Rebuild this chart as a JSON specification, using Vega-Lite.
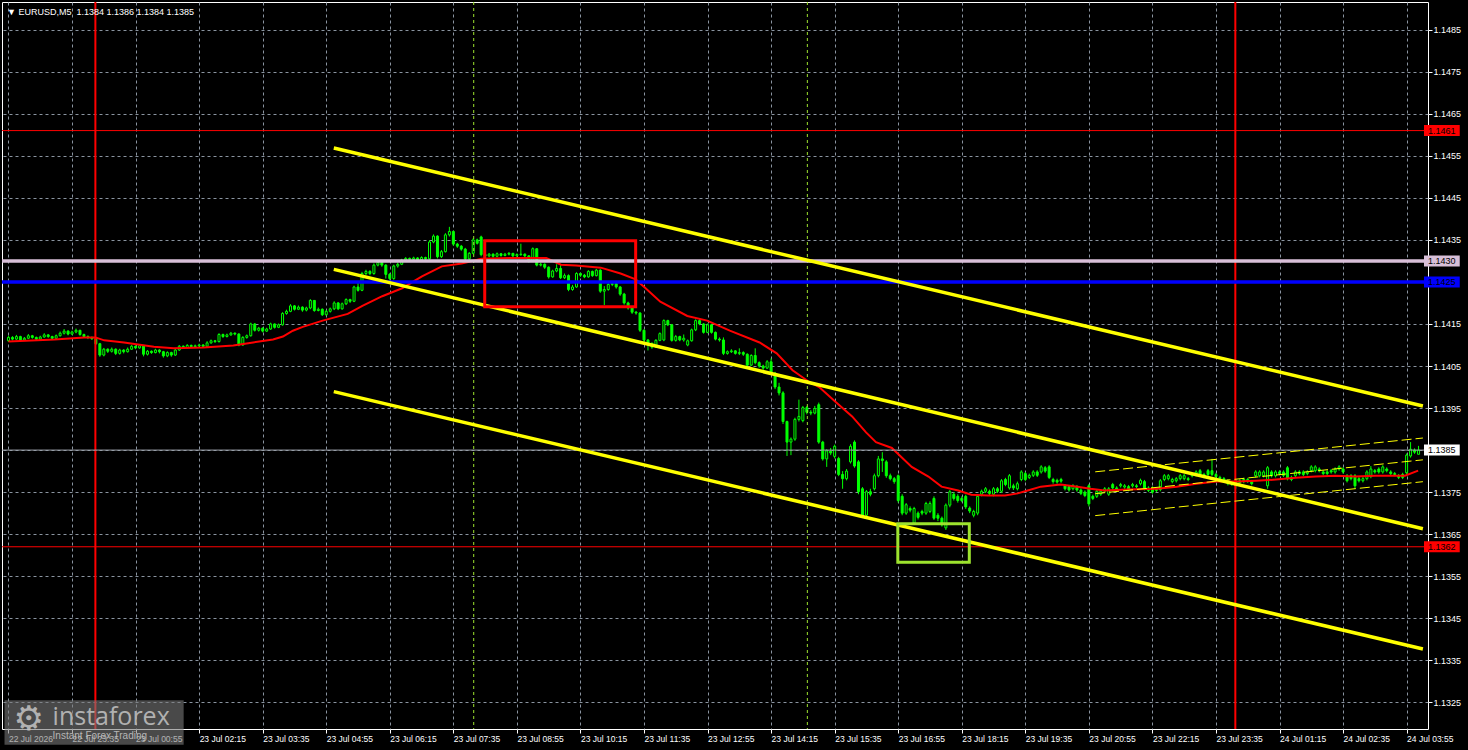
{
"$schema": "https://vega.github.io/schema/vega-lite/v6.json",
"width": 1426, "height": 727,
"autosize": {"type": "none"},
"padding": {"left": 2, "top": 2, "right": 40, "bottom": 21},
"background": "#000000",
"config": {"view": {"stroke": "#ffffff", "strokeWidth": 1}, "font": "Liberation Sans"},
"title": {"text": "▼ EURUSD,M5\u00a0 1.1384 1.1386 1.1384 1.1385", "anchor": "start", "frame": "group", "color": "#ffffff", "fontSize": 9, "fontWeight": "normal", "font": "Liberation Sans", "baseline": "top", "offset": 0, "dx": 5, "dy": 16},
"resolve": {"scale": {"color": "independent"}},
"datasets": {
"candles": [
{"i":0,"o":1.1411,"h":1.14122,"l":1.14107,"c":1.14118},
{"i":1,"o":1.14118,"h":1.14121,"l":1.14111,"c":1.14114},
{"i":2,"o":1.14114,"h":1.14124,"l":1.14112,"c":1.1412},
{"i":3,"o":1.1412,"h":1.14122,"l":1.14109,"c":1.14112},
{"i":4,"o":1.14112,"h":1.14119,"l":1.1411,"c":1.14116},
{"i":5,"o":1.14116,"h":1.14126,"l":1.14114,"c":1.14122},
{"i":6,"o":1.14122,"h":1.14124,"l":1.14115,"c":1.14118},
{"i":7,"o":1.14118,"h":1.1412,"l":1.14111,"c":1.14114},
{"i":8,"o":1.14114,"h":1.14122,"l":1.14112,"c":1.14119},
{"i":9,"o":1.14119,"h":1.14128,"l":1.14117,"c":1.14124},
{"i":10,"o":1.14124,"h":1.14126,"l":1.14117,"c":1.1412},
{"i":11,"o":1.1412,"h":1.14122,"l":1.14113,"c":1.14116},
{"i":12,"o":1.14116,"h":1.14125,"l":1.14114,"c":1.14122},
{"i":13,"o":1.14122,"h":1.14132,"l":1.1412,"c":1.14128},
{"i":14,"o":1.14128,"h":1.14138,"l":1.14125,"c":1.14133},
{"i":15,"o":1.14133,"h":1.14135,"l":1.14123,"c":1.14126},
{"i":16,"o":1.14126,"h":1.14134,"l":1.14124,"c":1.14131},
{"i":17,"o":1.14131,"h":1.14139,"l":1.14128,"c":1.14135},
{"i":18,"o":1.14135,"h":1.14136,"l":1.14122,"c":1.14125},
{"i":19,"o":1.14125,"h":1.14127,"l":1.14117,"c":1.1412},
{"i":20,"o":1.1412,"h":1.14123,"l":1.14114,"c":1.14118},
{"i":21,"o":1.14118,"h":1.1412,"l":1.14112,"c":1.14115},
{"i":22,"o":1.14115,"h":1.14117,"l":1.141,"c":1.14103},
{"i":23,"o":1.14103,"h":1.14105,"l":1.14072,"c":1.14076},
{"i":24,"o":1.14076,"h":1.14093,"l":1.14073,"c":1.1409},
{"i":25,"o":1.1409,"h":1.14092,"l":1.14081,"c":1.14085},
{"i":26,"o":1.14085,"h":1.14094,"l":1.14082,"c":1.1409},
{"i":27,"o":1.1409,"h":1.14092,"l":1.14076,"c":1.1408},
{"i":28,"o":1.1408,"h":1.14091,"l":1.14077,"c":1.14088},
{"i":29,"o":1.14088,"h":1.1409,"l":1.1408,"c":1.14084},
{"i":30,"o":1.14084,"h":1.14094,"l":1.14082,"c":1.1409},
{"i":31,"o":1.1409,"h":1.141,"l":1.14088,"c":1.14097},
{"i":32,"o":1.14097,"h":1.14099,"l":1.1409,"c":1.14093},
{"i":33,"o":1.14093,"h":1.14101,"l":1.14091,"c":1.14098},
{"i":34,"o":1.14098,"h":1.14099,"l":1.14073,"c":1.14078},
{"i":35,"o":1.14078,"h":1.14088,"l":1.14075,"c":1.14085},
{"i":36,"o":1.14085,"h":1.14087,"l":1.14079,"c":1.14082},
{"i":37,"o":1.14082,"h":1.14091,"l":1.1408,"c":1.14088},
{"i":38,"o":1.14088,"h":1.1409,"l":1.1408,"c":1.14084},
{"i":39,"o":1.14084,"h":1.14086,"l":1.1407,"c":1.14074},
{"i":40,"o":1.14074,"h":1.14085,"l":1.14071,"c":1.14082},
{"i":41,"o":1.14082,"h":1.14084,"l":1.14072,"c":1.14076},
{"i":42,"o":1.14076,"h":1.14091,"l":1.14074,"c":1.14088},
{"i":43,"o":1.14088,"h":1.141,"l":1.14086,"c":1.14097},
{"i":44,"o":1.14097,"h":1.14099,"l":1.14091,"c":1.14094},
{"i":45,"o":1.14094,"h":1.14102,"l":1.14092,"c":1.14099},
{"i":46,"o":1.14099,"h":1.14101,"l":1.14093,"c":1.14096},
{"i":47,"o":1.14096,"h":1.14101,"l":1.14094,"c":1.14098},
{"i":48,"o":1.14098,"h":1.14103,"l":1.14095,"c":1.141},
{"i":49,"o":1.141,"h":1.14102,"l":1.14094,"c":1.14097},
{"i":50,"o":1.14097,"h":1.14109,"l":1.14095,"c":1.14105},
{"i":51,"o":1.14105,"h":1.14113,"l":1.14103,"c":1.1411},
{"i":52,"o":1.1411,"h":1.14112,"l":1.14105,"c":1.14108},
{"i":53,"o":1.14108,"h":1.14128,"l":1.14106,"c":1.14125},
{"i":54,"o":1.14125,"h":1.14127,"l":1.14117,"c":1.1412},
{"i":55,"o":1.1412,"h":1.14127,"l":1.14118,"c":1.14124},
{"i":56,"o":1.14124,"h":1.14131,"l":1.14122,"c":1.14128},
{"i":57,"o":1.14128,"h":1.1413,"l":1.14123,"c":1.14126},
{"i":58,"o":1.14126,"h":1.14128,"l":1.14097,"c":1.141},
{"i":59,"o":1.141,"h":1.14121,"l":1.14098,"c":1.14118},
{"i":60,"o":1.14118,"h":1.14125,"l":1.14115,"c":1.14122},
{"i":61,"o":1.14122,"h":1.14153,"l":1.1412,"c":1.1415},
{"i":62,"o":1.1415,"h":1.14152,"l":1.14132,"c":1.14135},
{"i":63,"o":1.14135,"h":1.14143,"l":1.14132,"c":1.1414},
{"i":64,"o":1.1414,"h":1.14142,"l":1.1413,"c":1.14133},
{"i":65,"o":1.14133,"h":1.14141,"l":1.14131,"c":1.14138},
{"i":66,"o":1.14138,"h":1.14153,"l":1.14136,"c":1.1415},
{"i":67,"o":1.1415,"h":1.14151,"l":1.14139,"c":1.14142},
{"i":68,"o":1.14142,"h":1.14151,"l":1.1414,"c":1.14148},
{"i":69,"o":1.14148,"h":1.14178,"l":1.14146,"c":1.14175},
{"i":70,"o":1.14175,"h":1.14184,"l":1.14172,"c":1.1418},
{"i":71,"o":1.1418,"h":1.14197,"l":1.14178,"c":1.14193},
{"i":72,"o":1.14193,"h":1.14195,"l":1.14182,"c":1.14185},
{"i":73,"o":1.14185,"h":1.14194,"l":1.14183,"c":1.1419},
{"i":74,"o":1.1419,"h":1.14192,"l":1.14179,"c":1.14183},
{"i":75,"o":1.14183,"h":1.14191,"l":1.1418,"c":1.14188},
{"i":76,"o":1.14188,"h":1.14209,"l":1.14185,"c":1.14206},
{"i":77,"o":1.14206,"h":1.14207,"l":1.14179,"c":1.14182},
{"i":78,"o":1.14182,"h":1.14189,"l":1.1418,"c":1.14185},
{"i":79,"o":1.14185,"h":1.14187,"l":1.14169,"c":1.14172},
{"i":80,"o":1.14172,"h":1.14183,"l":1.1417,"c":1.1418},
{"i":81,"o":1.1418,"h":1.14189,"l":1.14177,"c":1.14186},
{"i":82,"o":1.14186,"h":1.14204,"l":1.14183,"c":1.142},
{"i":83,"o":1.142,"h":1.14202,"l":1.14183,"c":1.14186},
{"i":84,"o":1.14186,"h":1.14201,"l":1.14184,"c":1.14198},
{"i":85,"o":1.14198,"h":1.14211,"l":1.14195,"c":1.14208},
{"i":86,"o":1.14208,"h":1.1421,"l":1.142,"c":1.14204},
{"i":87,"o":1.14204,"h":1.14241,"l":1.14202,"c":1.14238},
{"i":88,"o":1.14238,"h":1.1425,"l":1.14227,"c":1.1423},
{"i":89,"o":1.1423,"h":1.14274,"l":1.14228,"c":1.1427},
{"i":90,"o":1.1427,"h":1.14279,"l":1.14266,"c":1.14275},
{"i":91,"o":1.14275,"h":1.14278,"l":1.14266,"c":1.1427},
{"i":92,"o":1.1427,"h":1.14294,"l":1.14267,"c":1.1429},
{"i":93,"o":1.1429,"h":1.143,"l":1.14287,"c":1.14296},
{"i":94,"o":1.14296,"h":1.14299,"l":1.14286,"c":1.1429},
{"i":95,"o":1.1429,"h":1.14292,"l":1.14258,"c":1.14268},
{"i":96,"o":1.14268,"h":1.14271,"l":1.14248,"c":1.14258},
{"i":97,"o":1.14258,"h":1.14291,"l":1.14255,"c":1.14288},
{"i":98,"o":1.14288,"h":1.14296,"l":1.14284,"c":1.14292},
{"i":99,"o":1.14292,"h":1.14305,"l":1.1429,"c":1.14302},
{"i":100,"o":1.14302,"h":1.14309,"l":1.14299,"c":1.14306},
{"i":101,"o":1.14306,"h":1.14308,"l":1.14301,"c":1.14304},
{"i":102,"o":1.14304,"h":1.1431,"l":1.14301,"c":1.14307},
{"i":103,"o":1.14307,"h":1.14309,"l":1.143,"c":1.14303},
{"i":104,"o":1.14303,"h":1.14311,"l":1.14301,"c":1.14308},
{"i":105,"o":1.14308,"h":1.1431,"l":1.14302,"c":1.14305},
{"i":106,"o":1.14305,"h":1.14349,"l":1.14303,"c":1.14345},
{"i":107,"o":1.14345,"h":1.14363,"l":1.14342,"c":1.14359},
{"i":108,"o":1.14359,"h":1.14361,"l":1.14306,"c":1.1431},
{"i":109,"o":1.1431,"h":1.14326,"l":1.14307,"c":1.14322},
{"i":110,"o":1.14322,"h":1.14366,"l":1.1432,"c":1.14362},
{"i":111,"o":1.14362,"h":1.14381,"l":1.14358,"c":1.1437},
{"i":112,"o":1.1437,"h":1.14372,"l":1.14336,"c":1.1434},
{"i":113,"o":1.1434,"h":1.14343,"l":1.14331,"c":1.14335},
{"i":114,"o":1.14335,"h":1.14338,"l":1.14324,"c":1.14328},
{"i":115,"o":1.14328,"h":1.14331,"l":1.143,"c":1.14305},
{"i":116,"o":1.14305,"h":1.14321,"l":1.14302,"c":1.14318},
{"i":117,"o":1.14318,"h":1.14354,"l":1.14316,"c":1.1435},
{"i":118,"o":1.1435,"h":1.14353,"l":1.14339,"c":1.14342},
{"i":119,"o":1.14357,"h":1.1436,"l":1.14311,"c":1.14315},
{"i":120,"o":1.14315,"h":1.14318,"l":1.1429,"c":1.14312},
{"i":121,"o":1.14312,"h":1.14319,"l":1.14309,"c":1.14316},
{"i":122,"o":1.14316,"h":1.14318,"l":1.14308,"c":1.14311},
{"i":123,"o":1.14311,"h":1.1432,"l":1.14309,"c":1.14317},
{"i":124,"o":1.14317,"h":1.14319,"l":1.1431,"c":1.14313},
{"i":125,"o":1.14313,"h":1.14319,"l":1.14311,"c":1.14316},
{"i":126,"o":1.14316,"h":1.14321,"l":1.14313,"c":1.14318},
{"i":127,"o":1.14318,"h":1.14319,"l":1.14309,"c":1.14312},
{"i":128,"o":1.14312,"h":1.14318,"l":1.1431,"c":1.14315},
{"i":129,"o":1.14315,"h":1.14341,"l":1.14312,"c":1.14316},
{"i":130,"o":1.14316,"h":1.14318,"l":1.14309,"c":1.14312},
{"i":131,"o":1.14312,"h":1.14314,"l":1.14296,"c":1.143},
{"i":132,"o":1.143,"h":1.14332,"l":1.14298,"c":1.14329},
{"i":133,"o":1.14329,"h":1.1433,"l":1.14287,"c":1.1429},
{"i":134,"o":1.1429,"h":1.14296,"l":1.14287,"c":1.14292},
{"i":135,"o":1.14292,"h":1.14294,"l":1.14281,"c":1.14285},
{"i":136,"o":1.14285,"h":1.14287,"l":1.14258,"c":1.14262},
{"i":137,"o":1.14262,"h":1.14279,"l":1.1426,"c":1.14276},
{"i":138,"o":1.14276,"h":1.14292,"l":1.14273,"c":1.14282},
{"i":139,"o":1.14282,"h":1.1429,"l":1.14257,"c":1.1426},
{"i":140,"o":1.1426,"h":1.1427,"l":1.14257,"c":1.14265},
{"i":141,"o":1.14265,"h":1.14268,"l":1.14228,"c":1.14232},
{"i":142,"o":1.14232,"h":1.14243,"l":1.14229,"c":1.14238},
{"i":143,"o":1.14238,"h":1.14273,"l":1.14236,"c":1.1427},
{"i":144,"o":1.1427,"h":1.14272,"l":1.14262,"c":1.14266},
{"i":145,"o":1.14266,"h":1.14269,"l":1.14259,"c":1.14262},
{"i":146,"o":1.14262,"h":1.14278,"l":1.1426,"c":1.14275},
{"i":147,"o":1.14275,"h":1.14277,"l":1.14262,"c":1.14265},
{"i":148,"o":1.14265,"h":1.14281,"l":1.14263,"c":1.14278},
{"i":149,"o":1.14278,"h":1.1428,"l":1.14224,"c":1.14228},
{"i":150,"o":1.14228,"h":1.1424,"l":1.14195,"c":1.14232},
{"i":151,"o":1.14232,"h":1.14247,"l":1.14229,"c":1.14244},
{"i":152,"o":1.14244,"h":1.1425,"l":1.1424,"c":1.14246},
{"i":153,"o":1.14246,"h":1.14248,"l":1.14234,"c":1.14238},
{"i":154,"o":1.14238,"h":1.1424,"l":1.14217,"c":1.14221},
{"i":155,"o":1.14221,"h":1.14224,"l":1.14196,"c":1.142},
{"i":156,"o":1.142,"h":1.14203,"l":1.14184,"c":1.14188},
{"i":157,"o":1.14188,"h":1.1419,"l":1.14174,"c":1.14178},
{"i":158,"o":1.14178,"h":1.14181,"l":1.14172,"c":1.14176},
{"i":159,"o":1.14176,"h":1.14178,"l":1.14131,"c":1.14135},
{"i":160,"o":1.14135,"h":1.14137,"l":1.14104,"c":1.14112},
{"i":161,"o":1.14112,"h":1.14114,"l":1.14087,"c":1.14104},
{"i":162,"o":1.14104,"h":1.14106,"l":1.14091,"c":1.14095},
{"i":163,"o":1.14095,"h":1.14114,"l":1.14093,"c":1.14111},
{"i":164,"o":1.14111,"h":1.1413,"l":1.14109,"c":1.14127},
{"i":165,"o":1.14112,"h":1.14161,"l":1.14109,"c":1.14158},
{"i":166,"o":1.14158,"h":1.1416,"l":1.14145,"c":1.14148},
{"i":167,"o":1.14148,"h":1.1415,"l":1.14108,"c":1.14111},
{"i":168,"o":1.14111,"h":1.14124,"l":1.14108,"c":1.1412},
{"i":169,"o":1.1412,"h":1.14122,"l":1.14109,"c":1.14112},
{"i":170,"o":1.14112,"h":1.14125,"l":1.14108,"c":1.14116},
{"i":171,"o":1.141,"h":1.14113,"l":1.14097,"c":1.1411},
{"i":172,"o":1.1411,"h":1.14139,"l":1.14108,"c":1.14136},
{"i":173,"o":1.14136,"h":1.14161,"l":1.14133,"c":1.14158},
{"i":174,"o":1.14158,"h":1.14162,"l":1.14147,"c":1.1415},
{"i":175,"o":1.1415,"h":1.14152,"l":1.14127,"c":1.1413},
{"i":176,"o":1.1413,"h":1.14151,"l":1.14128,"c":1.14148},
{"i":177,"o":1.14148,"h":1.1415,"l":1.14127,"c":1.1413},
{"i":178,"o":1.1413,"h":1.14132,"l":1.14111,"c":1.14114},
{"i":179,"o":1.14114,"h":1.14118,"l":1.14108,"c":1.14112},
{"i":180,"o":1.14112,"h":1.14118,"l":1.14076,"c":1.1408},
{"i":181,"o":1.1408,"h":1.14087,"l":1.14077,"c":1.14084},
{"i":182,"o":1.14084,"h":1.1409,"l":1.14081,"c":1.14086},
{"i":183,"o":1.14086,"h":1.14088,"l":1.14077,"c":1.1408},
{"i":184,"o":1.1408,"h":1.14092,"l":1.14076,"c":1.14082},
{"i":185,"o":1.14082,"h":1.14085,"l":1.14074,"c":1.14078},
{"i":186,"o":1.14078,"h":1.1408,"l":1.14048,"c":1.14052},
{"i":187,"o":1.14052,"h":1.14078,"l":1.1405,"c":1.14075},
{"i":188,"o":1.14075,"h":1.14092,"l":1.14054,"c":1.14058},
{"i":189,"o":1.14058,"h":1.14061,"l":1.14046,"c":1.1405},
{"i":190,"o":1.1405,"h":1.14053,"l":1.14041,"c":1.14045},
{"i":191,"o":1.14045,"h":1.14064,"l":1.14043,"c":1.1406},
{"i":192,"o":1.1406,"h":1.14068,"l":1.14029,"c":1.14033},
{"i":193,"o":1.14033,"h":1.14036,"l":1.13995,"c":1.14},
{"i":194,"o":1.14,"h":1.1401,"l":1.1398,"c":1.13986},
{"i":195,"o":1.13986,"h":1.1399,"l":1.13912,"c":1.13918},
{"i":196,"o":1.13918,"h":1.1392,"l":1.13836,"c":1.13869},
{"i":197,"o":1.13869,"h":1.1388,"l":1.13838,"c":1.13876},
{"i":198,"o":1.13876,"h":1.13927,"l":1.13872,"c":1.13923},
{"i":199,"o":1.13923,"h":1.1397,"l":1.13918,"c":1.1393},
{"i":200,"o":1.1392,"h":1.13955,"l":1.13916,"c":1.13951},
{"i":201,"o":1.13951,"h":1.13955,"l":1.13935,"c":1.1394},
{"i":202,"o":1.1394,"h":1.13945,"l":1.13933,"c":1.13938},
{"i":203,"o":1.13938,"h":1.13955,"l":1.13935,"c":1.13949},
{"i":204,"o":1.13958,"h":1.13963,"l":1.13865,"c":1.13869},
{"i":205,"o":1.13869,"h":1.13872,"l":1.13825,"c":1.13829},
{"i":206,"o":1.13829,"h":1.13852,"l":1.1381,"c":1.13848},
{"i":207,"o":1.13848,"h":1.13855,"l":1.13838,"c":1.13843},
{"i":208,"o":1.13835,"h":1.13863,"l":1.1383,"c":1.13859},
{"i":209,"o":1.1383,"h":1.13834,"l":1.13788,"c":1.13792},
{"i":210,"o":1.13792,"h":1.138,"l":1.13758,"c":1.13782},
{"i":211,"o":1.13782,"h":1.13805,"l":1.13778,"c":1.138},
{"i":212,"o":1.13822,"h":1.13864,"l":1.13818,"c":1.13859},
{"i":213,"o":1.13869,"h":1.13873,"l":1.13808,"c":1.13812},
{"i":214,"o":1.13822,"h":1.13826,"l":1.13745,"c":1.13751},
{"i":215,"o":1.13758,"h":1.13762,"l":1.1369,"c":1.13695},
{"i":216,"o":1.13695,"h":1.13755,"l":1.13692,"c":1.13751},
{"i":217,"o":1.13751,"h":1.13758,"l":1.1374,"c":1.13745},
{"i":218,"o":1.13758,"h":1.13794,"l":1.13754,"c":1.13789},
{"i":219,"o":1.13789,"h":1.13836,"l":1.13785,"c":1.13829},
{"i":220,"o":1.13829,"h":1.13845,"l":1.13798,"c":1.13825},
{"i":221,"o":1.13822,"h":1.13826,"l":1.13784,"c":1.13789},
{"i":222,"o":1.13789,"h":1.13794,"l":1.13778,"c":1.13782},
{"i":223,"o":1.13782,"h":1.13786,"l":1.1377,"c":1.13775},
{"i":224,"o":1.13789,"h":1.13792,"l":1.13725,"c":1.1373},
{"i":225,"o":1.1374,"h":1.13745,"l":1.13695,"c":1.137},
{"i":226,"o":1.137,"h":1.13724,"l":1.13696,"c":1.1372},
{"i":227,"o":1.13711,"h":1.13716,"l":1.13702,"c":1.13707},
{"i":228,"o":1.13676,"h":1.13715,"l":1.13672,"c":1.13711},
{"i":229,"o":1.137,"h":1.13704,"l":1.13685,"c":1.1369},
{"i":230,"o":1.13704,"h":1.13708,"l":1.13695,"c":1.137},
{"i":231,"o":1.137,"h":1.13727,"l":1.13696,"c":1.13723},
{"i":232,"o":1.13704,"h":1.13728,"l":1.137,"c":1.13723},
{"i":233,"o":1.13735,"h":1.1374,"l":1.13684,"c":1.13688},
{"i":234,"o":1.13695,"h":1.137,"l":1.13681,"c":1.13688},
{"i":235,"o":1.13688,"h":1.13692,"l":1.13668,"c":1.13672},
{"i":236,"o":1.13665,"h":1.13723,"l":1.1366,"c":1.13719},
{"i":237,"o":1.13719,"h":1.13755,"l":1.13714,"c":1.13751},
{"i":238,"o":1.13745,"h":1.1375,"l":1.1373,"c":1.13735},
{"i":239,"o":1.1374,"h":1.13745,"l":1.13725,"c":1.1373},
{"i":240,"o":1.13735,"h":1.1374,"l":1.13726,"c":1.1373},
{"i":241,"o":1.1374,"h":1.13744,"l":1.1371,"c":1.13715},
{"i":242,"o":1.13712,"h":1.13716,"l":1.137,"c":1.13705},
{"i":243,"o":1.13695,"h":1.13708,"l":1.1369,"c":1.13704},
{"i":244,"o":1.137,"h":1.13744,"l":1.13695,"c":1.1374},
{"i":245,"o":1.13745,"h":1.13756,"l":1.1374,"c":1.13752},
{"i":246,"o":1.13752,"h":1.13762,"l":1.13748,"c":1.13758},
{"i":247,"o":1.13752,"h":1.13756,"l":1.13742,"c":1.13747},
{"i":248,"o":1.13745,"h":1.13762,"l":1.1374,"c":1.13758},
{"i":249,"o":1.13758,"h":1.13762,"l":1.13748,"c":1.13752},
{"i":250,"o":1.13752,"h":1.13781,"l":1.13748,"c":1.13777},
{"i":251,"o":1.1378,"h":1.13784,"l":1.13764,"c":1.13768},
{"i":252,"o":1.1376,"h":1.13793,"l":1.13756,"c":1.13789},
{"i":253,"o":1.13765,"h":1.1377,"l":1.13755,"c":1.1376},
{"i":254,"o":1.13758,"h":1.13775,"l":1.13754,"c":1.1377},
{"i":255,"o":1.1378,"h":1.13802,"l":1.13776,"c":1.13798},
{"i":256,"o":1.13794,"h":1.13798,"l":1.13776,"c":1.1378},
{"i":257,"o":1.13785,"h":1.13794,"l":1.13781,"c":1.1379},
{"i":258,"o":1.1379,"h":1.13802,"l":1.13786,"c":1.13798},
{"i":259,"o":1.13798,"h":1.13802,"l":1.13786,"c":1.1379},
{"i":260,"o":1.13798,"h":1.13814,"l":1.13794,"c":1.1381},
{"i":261,"o":1.13808,"h":1.13812,"l":1.13796,"c":1.138},
{"i":262,"o":1.1381,"h":1.13814,"l":1.13781,"c":1.13785},
{"i":263,"o":1.1378,"h":1.13784,"l":1.1377,"c":1.13775},
{"i":264,"o":1.13778,"h":1.13782,"l":1.1377,"c":1.13774},
{"i":265,"o":1.1378,"h":1.13784,"l":1.13772,"c":1.13776},
{"i":266,"o":1.13765,"h":1.13769,"l":1.13754,"c":1.13758},
{"i":267,"o":1.13763,"h":1.13767,"l":1.13751,"c":1.13755},
{"i":268,"o":1.13758,"h":1.13769,"l":1.13754,"c":1.13765},
{"i":269,"o":1.13763,"h":1.13767,"l":1.13751,"c":1.13755},
{"i":270,"o":1.13755,"h":1.13759,"l":1.13743,"c":1.13747},
{"i":271,"o":1.1375,"h":1.13754,"l":1.13738,"c":1.13742},
{"i":272,"o":1.13765,"h":1.13769,"l":1.13716,"c":1.13722},
{"i":273,"o":1.1374,"h":1.13744,"l":1.13731,"c":1.13735},
{"i":274,"o":1.1374,"h":1.13756,"l":1.13736,"c":1.13752},
{"i":275,"o":1.13745,"h":1.13756,"l":1.13741,"c":1.13752},
{"i":276,"o":1.13752,"h":1.13762,"l":1.13748,"c":1.13758},
{"i":277,"o":1.13745,"h":1.13762,"l":1.13741,"c":1.13758},
{"i":278,"o":1.13768,"h":1.13772,"l":1.13756,"c":1.1376},
{"i":279,"o":1.1376,"h":1.13764,"l":1.13752,"c":1.13756},
{"i":280,"o":1.13765,"h":1.13772,"l":1.13761,"c":1.13768},
{"i":281,"o":1.13762,"h":1.13769,"l":1.13758,"c":1.13765},
{"i":282,"o":1.13763,"h":1.13767,"l":1.13752,"c":1.13756},
{"i":283,"o":1.13765,"h":1.13772,"l":1.13761,"c":1.13768},
{"i":284,"o":1.13765,"h":1.13769,"l":1.13759,"c":1.13763},
{"i":285,"o":1.1377,"h":1.13782,"l":1.13766,"c":1.13778},
{"i":286,"o":1.13775,"h":1.13779,"l":1.13754,"c":1.13758},
{"i":287,"o":1.1376,"h":1.13764,"l":1.1375,"c":1.13754},
{"i":288,"o":1.1376,"h":1.13764,"l":1.13746,"c":1.1375},
{"i":289,"o":1.13756,"h":1.1376,"l":1.1375,"c":1.13754},
{"i":290,"o":1.13756,"h":1.13781,"l":1.13752,"c":1.13777},
{"i":291,"o":1.1378,"h":1.13793,"l":1.13776,"c":1.13789},
{"i":292,"o":1.13782,"h":1.13793,"l":1.13778,"c":1.13789},
{"i":293,"o":1.13775,"h":1.13784,"l":1.13771,"c":1.1378},
{"i":294,"o":1.13777,"h":1.13786,"l":1.13773,"c":1.13782},
{"i":295,"o":1.13782,"h":1.13793,"l":1.13778,"c":1.13789},
{"i":296,"o":1.13782,"h":1.13793,"l":1.13778,"c":1.13789},
{"i":297,"o":1.13782,"h":1.13786,"l":1.13776,"c":1.1378},
{"i":298,"o":1.13789,"h":1.13795,"l":1.13785,"c":1.13791},
{"i":299,"o":1.13791,"h":1.13802,"l":1.13787,"c":1.13798},
{"i":300,"o":1.13801,"h":1.13805,"l":1.13788,"c":1.13792},
{"i":301,"o":1.13792,"h":1.13796,"l":1.13783,"c":1.13787},
{"i":302,"o":1.13801,"h":1.13805,"l":1.13788,"c":1.13792},
{"i":303,"o":1.13801,"h":1.13829,"l":1.13788,"c":1.13792},
{"i":304,"o":1.13792,"h":1.13796,"l":1.13783,"c":1.13787},
{"i":305,"o":1.13785,"h":1.13789,"l":1.13778,"c":1.13782},
{"i":306,"o":1.13782,"h":1.13786,"l":1.13773,"c":1.13777},
{"i":307,"o":1.13777,"h":1.13781,"l":1.13766,"c":1.1377},
{"i":308,"o":1.13772,"h":1.13776,"l":1.13765,"c":1.13769},
{"i":309,"o":1.13777,"h":1.13781,"l":1.13758,"c":1.13765},
{"i":310,"o":1.13777,"h":1.13781,"l":1.13768,"c":1.13772},
{"i":311,"o":1.1378,"h":1.13784,"l":1.13771,"c":1.13775},
{"i":312,"o":1.1378,"h":1.13784,"l":1.13772,"c":1.13776},
{"i":313,"o":1.13775,"h":1.13779,"l":1.13766,"c":1.1377},
{"i":314,"o":1.13789,"h":1.13802,"l":1.13785,"c":1.13798},
{"i":315,"o":1.13789,"h":1.13802,"l":1.13785,"c":1.13798},
{"i":316,"o":1.13789,"h":1.13802,"l":1.13785,"c":1.13798},
{"i":317,"o":1.13765,"h":1.13812,"l":1.13758,"c":1.13808},
{"i":318,"o":1.13798,"h":1.13802,"l":1.13785,"c":1.13789},
{"i":319,"o":1.13789,"h":1.13802,"l":1.13785,"c":1.13798},
{"i":320,"o":1.13798,"h":1.13802,"l":1.1379,"c":1.13794},
{"i":321,"o":1.13798,"h":1.13802,"l":1.13786,"c":1.1379},
{"i":322,"o":1.13808,"h":1.13812,"l":1.13778,"c":1.13782},
{"i":323,"o":1.13785,"h":1.13789,"l":1.13776,"c":1.1378},
{"i":324,"o":1.13789,"h":1.13802,"l":1.13785,"c":1.13798},
{"i":325,"o":1.13798,"h":1.13802,"l":1.1379,"c":1.13794},
{"i":326,"o":1.13798,"h":1.13802,"l":1.13788,"c":1.13792},
{"i":327,"o":1.13794,"h":1.13802,"l":1.1379,"c":1.13798},
{"i":328,"o":1.13801,"h":1.13814,"l":1.13797,"c":1.1381},
{"i":329,"o":1.13801,"h":1.13814,"l":1.13797,"c":1.1381},
{"i":330,"o":1.13805,"h":1.13809,"l":1.13797,"c":1.13801},
{"i":331,"o":1.13798,"h":1.13802,"l":1.1379,"c":1.13794},
{"i":332,"o":1.13798,"h":1.13802,"l":1.1379,"c":1.13794},
{"i":333,"o":1.13801,"h":1.13805,"l":1.13794,"c":1.13798},
{"i":334,"o":1.13798,"h":1.13809,"l":1.13794,"c":1.13805},
{"i":335,"o":1.13805,"h":1.13814,"l":1.13801,"c":1.1381},
{"i":336,"o":1.13805,"h":1.13809,"l":1.13794,"c":1.13798},
{"i":337,"o":1.13789,"h":1.13793,"l":1.13773,"c":1.13777},
{"i":338,"o":1.13789,"h":1.13793,"l":1.13778,"c":1.13782},
{"i":339,"o":1.13789,"h":1.13793,"l":1.13758,"c":1.13765},
{"i":340,"o":1.13782,"h":1.13786,"l":1.13773,"c":1.13777},
{"i":341,"o":1.13777,"h":1.13786,"l":1.13773,"c":1.13782},
{"i":342,"o":1.13782,"h":1.13802,"l":1.13778,"c":1.13798},
{"i":343,"o":1.13787,"h":1.13812,"l":1.13783,"c":1.13805},
{"i":344,"o":1.13801,"h":1.13805,"l":1.13794,"c":1.13798},
{"i":345,"o":1.13805,"h":1.13809,"l":1.13794,"c":1.13798},
{"i":346,"o":1.13798,"h":1.13814,"l":1.13794,"c":1.1381},
{"i":347,"o":1.13805,"h":1.13809,"l":1.13797,"c":1.13801},
{"i":348,"o":1.13798,"h":1.13802,"l":1.1379,"c":1.13794},
{"i":349,"o":1.13794,"h":1.13798,"l":1.13788,"c":1.13792},
{"i":350,"o":1.13789,"h":1.13793,"l":1.13781,"c":1.13785},
{"i":351,"o":1.13792,"h":1.13796,"l":1.13781,"c":1.13785},
{"i":352,"o":1.13796,"h":1.13842,"l":1.13792,"c":1.13838},
{"i":353,"o":1.13836,"h":1.13869,"l":1.13832,"c":1.13852},
{"i":354,"o":1.1385,"h":1.13854,"l":1.13841,"c":1.13845},
{"i":355,"o":1.1384,"h":1.1386,"l":1.1384,"c":1.1385}
],
"ma": [
{"i":0,"p":1.14108},{"i":11.6,"p":1.14113},{"i":19.1,"p":1.14118},{"i":21.9,"p":1.14118},{"i":24.1,"p":1.14111},{"i":29.1,"p":1.14106},{"i":36.6,"p":1.14096},{"i":41.6,"p":1.14092},{"i":49.1,"p":1.14094},{"i":56.6,"p":1.14099},{"i":61.6,"p":1.14106},{"i":66.6,"p":1.14113},{"i":69.1,"p":1.1412},{"i":71.6,"p":1.14134},{"i":74.1,"p":1.14143},{"i":79.1,"p":1.14158},{"i":85.4,"p":1.14174},{"i":89.1,"p":1.14193},{"i":94.1,"p":1.14216},{"i":99.1,"p":1.14235},{"i":104.1,"p":1.14263},{"i":109.1,"p":1.14287},{"i":114.1,"p":1.14294},{"i":119.1,"p":1.14305},{"i":126.6,"p":1.14307},{"i":135.4,"p":1.14307},{"i":139.1,"p":1.14291},{"i":142.9,"p":1.14289},{"i":149.1,"p":1.14284},{"i":154.1,"p":1.1427},{"i":157.9,"p":1.14256},{"i":160.4,"p":1.14235},{"i":164.1,"p":1.14203},{"i":170.9,"p":1.14169},{"i":175.9,"p":1.14158},{"i":181.6,"p":1.14134},{"i":189.1,"p":1.14106},{"i":193.4,"p":1.1408},{"i":197.4,"p":1.1404},{"i":201.6,"p":1.14012},{"i":204.1,"p":1.14},{"i":208.4,"p":1.13963},{"i":212.4,"p":1.1393},{"i":215.9,"p":1.13892},{"i":218.4,"p":1.13869},{"i":222.4,"p":1.13855},{"i":227.4,"p":1.1381},{"i":231.6,"p":1.13787},{"i":234.9,"p":1.13763},{"i":239.1,"p":1.13754},{"i":242.4,"p":1.13744},{"i":246.6,"p":1.13742},{"i":250.9,"p":1.13742},{"i":254.1,"p":1.13747},{"i":256.6,"p":1.13754},{"i":259.9,"p":1.13763},{"i":264.9,"p":1.13768},{"i":269.1,"p":1.13763},{"i":272.4,"p":1.13758},{"i":275.9,"p":1.13754},{"i":281.6,"p":1.13756},{"i":289.1,"p":1.13758},{"i":294.1,"p":1.13763},{"i":299.1,"p":1.1377},{"i":304.1,"p":1.13775},{"i":309.1,"p":1.13775},{"i":314.1,"p":1.13777},{"i":319.1,"p":1.1378},{"i":324.1,"p":1.13784},{"i":329.1,"p":1.13787},{"i":334.1,"p":1.13789},{"i":339.1,"p":1.13787},{"i":344.1,"p":1.13789},{"i":351.6,"p":1.13789},{"i":354.9,"p":1.13801}
],
"levels": [
{"p":1.1461,"k":"upper"},{"p":1.143,"k":"pivot"},{"p":1.1425,"k":"target"},{"p":1.1385,"k":"bid"},{"p":1.1362,"k":"lower"}
],
"trend": [
{"line":"a","i":81.9,"p":1.145685},{"line":"a","i":356.1,"p":1.13955},
{"line":"b","i":81.9,"p":1.142799},{"line":"b","i":356.1,"p":1.136629},
{"line":"c","i":81.9,"p":1.13989},{"line":"c","i":356.1,"p":1.133767}
],
"reg": [
{"line":"u","i":273.6,"p":1.137983},{"line":"u","i":356.1,"p":1.138787},
{"line":"m","i":273.6,"p":1.137462},{"line":"m","i":356.1,"p":1.138268},
{"line":"d","i":273.6,"p":1.136941},{"line":"d","i":356.1,"p":1.137748}
],
"boxes": [
{"k":"sell","i0":119.9,"i1":157.9,"p0":1.141908,"p1":1.143479},
{"k":"buy","i0":223.9,"i1":241.9,"p0":1.135831,"p1":1.136746}
],
"vred": [{"i":21.875},{"i":308.875}],
"vgreen": [{"i":117.125},{"i":201.125}]
},
"layer": [
{
"data": {"name": "candles"},
"mark": {"type": "rule", "color": "#00ff00", "strokeWidth": 1},
"encoding": {
"x": {"field": "i", "type": "quantitative",
"scale": {"domain": [-0.375, 356.125], "nice": false, "zero": false},
"axis": {"orient": "bottom", "title": null,
"values": [0,8,16,24,32,40,48,56,64,72,80,88,96,104,112,120,128,136,144,152,160,168,176,184,192,200,208,216,224,232,240,248,256,264,272,280,288,296,304,312,320,328,336,344,352],
"grid": true, "gridColor": "#8a94a0", "gridDash": [3,3], "gridWidth": 1,
"domain": false, "tickSize": 4, "tickColor": "#ffffff",
"tickOpacity": {"condition": {"test": "datum.value % 16 === 0", "value": 1}, "value": 0},
"labelExpr": "datum.value % 16 === 0 ? ['22 Jul 2026','22 Jul 23:35','23 Jul 00:55','23 Jul 02:15','23 Jul 03:35','23 Jul 04:55','23 Jul 06:15','23 Jul 07:35','23 Jul 08:55','23 Jul 10:15','23 Jul 11:35','23 Jul 12:55','23 Jul 14:15','23 Jul 15:35','23 Jul 16:55','23 Jul 18:15','23 Jul 19:35','23 Jul 20:55','23 Jul 22:15','23 Jul 23:35','24 Jul 01:15','24 Jul 02:35','24 Jul 03:55'][datum.value / 16] : ''",
"labelColor": "#ffffff", "labelFont": "Liberation Sans", "labelFontSize": 8.5,
"labelAlign": "left", "labelBaseline": "top", "labelPadding": 1,
"labelFlush": false, "labelOverlap": false, "labelBound": false}},
"y": {"field": "l", "type": "quantitative",
"scale": {"domain": [1.131984, 1.14904], "nice": false, "zero": false},
"axis": {"orient": "right", "title": null,
"values": [1.1325,1.1335,1.1345,1.1355,1.1365,1.1375,1.1385,1.1395,1.1405,1.1415,1.1425,1.1435,1.1445,1.1455,1.1465,1.1475,1.1485],
"labelExpr": "abs(datum.value - 1.1425) < 0.00001 || abs(datum.value - 1.1385) < 0.00001 ? '' : format(datum.value, '.4f')",
"grid": true, "gridColor": "#8a94a0", "gridDash": [3,3], "gridWidth": 1,
"domain": false, "tickSize": 4, "tickColor": "#ffffff",
"labelColor": "#ffffff", "labelFont": "Liberation Sans", "labelFontSize": 9, "labelPadding": 1,
"labelFlush": false, "labelOverlap": false, "labelBound": false}},
"y2": {"field": "h"}
}
},
{
"data": {"name": "candles"},
"mark": {"type": "bar", "width": 2, "stroke": "#00ff00", "strokeWidth": 1},
"encoding": {
"x": {"field": "i", "type": "quantitative"},
"y": {"field": "o", "type": "quantitative"},
"y2": {"field": "c"},
"fill": {"condition": {"test": "datum.c > datum.o", "value": "#000000"}, "value": "#00ff00"}
}
},
{
"data": {"name": "ma"},
"mark": {"type": "line", "color": "#ff0000", "strokeWidth": 2},
"encoding": {"x": {"field": "i", "type": "quantitative"}, "y": {"field": "p", "type": "quantitative"}}
},
{
"data": {"name": "vred"},
"mark": {"type": "rule", "color": "#ff0000", "strokeWidth": 2},
"encoding": {"x": {"field": "i", "type": "quantitative"}}
},
{
"data": {"name": "vgreen"},
"mark": {"type": "rule", "color": "#9de32e", "strokeWidth": 1, "strokeDash": [3,3]},
"encoding": {"x": {"field": "i", "type": "quantitative"}}
},
{
"data": {"name": "levels"},
"transform": [{"filter": "datum.k === 'upper' || datum.k === 'lower' || datum.k === 'bid'"}],
"mark": {"type": "rule", "strokeWidth": 1},
"encoding": {"y": {"field": "p", "type": "quantitative"},
"color": {"field": "k", "type": "nominal", "scale": {"domain": ["upper","lower","bid"], "range": ["#ff0000","#ff0000","#9ea3ab"]}, "legend": null}}
},
{
"data": {"name": "levels"},
"transform": [{"filter": "datum.k === 'pivot' || datum.k === 'target'"}],
"mark": {"type": "rule", "strokeWidth": 3.5},
"encoding": {"y": {"field": "p", "type": "quantitative"},
"color": {"field": "k", "type": "nominal", "scale": {"domain": ["pivot","target"], "range": ["#d8bfd8","#0000ff"]}, "legend": null}}
},
{
"data": {"name": "trend"},
"mark": {"type": "line", "color": "#ffff00", "strokeWidth": 3.5},
"encoding": {"x": {"field": "i", "type": "quantitative"}, "y": {"field": "p", "type": "quantitative"}, "detail": {"field": "line"}}
},
{
"data": {"name": "reg"},
"mark": {"type": "line", "color": "#ffff00", "strokeWidth": 1, "strokeDash": [10,4]},
"encoding": {"x": {"field": "i", "type": "quantitative"}, "y": {"field": "p", "type": "quantitative"}, "detail": {"field": "line"}}
},
{
"data": {"name": "boxes"},
"mark": {"type": "rect", "filled": false, "strokeWidth": 3},
"encoding": {
"x": {"field": "i0", "type": "quantitative"}, "x2": {"field": "i1"},
"y": {"field": "p0", "type": "quantitative"}, "y2": {"field": "p1"},
"stroke": {"field": "k", "type": "nominal", "scale": {"domain": ["sell","buy"], "range": ["#ff0000","#9de32e"]}, "legend": null}
}
},
{
"data": {"name": "levels"},
"mark": {"type": "bar", "orient": "horizontal", "height": 11},
"encoding": {
"x": {"datum": 356.375}, "x2": {"datum": 365.375},
"y": {"field": "p", "type": "quantitative"},
"color": {"field": "k", "type": "nominal", "scale": {"domain": ["upper","pivot","target","bid","lower"], "range": ["#ff0000","#d8bfd8","#0000ff","#ffffff","#ff0000"]}, "legend": null}
}
},
{
"data": {"name": "levels"},
"mark": {"type": "text", "align": "left", "baseline": "middle", "color": "#000000", "font": "Liberation Sans", "fontSize": 9},
"encoding": {
"x": {"datum": 357.375},
"y": {"field": "p", "type": "quantitative"},
"text": {"field": "p", "type": "quantitative", "format": ".4f"}
}
},
{
"data": {"values": [{}]},
"mark": {"type": "rect", "fill": "#7a7a7a", "opacity": 0.6},
"encoding": {"x": {"datum": -1}, "x2": {"datum": 44.1}, "y": {"datum": 1.131491}, "y2": {"datum": 1.132547}}
},
{
"data": {"values": [{}]},
"mark": {"type": "text", "align": "center", "baseline": "middle", "color": "#c4c4c4", "font": "DejaVu Sans", "fontSize": 34, "opacity": 0.85},
"encoding": {"x": {"datum": 5.1}, "y": {"datum": 1.132078}, "text": {"value": "⚙"}}
},
{
"data": {"values": [{}]},
"mark": {"type": "text", "align": "left", "baseline": "middle", "color": "#c4c4c4", "font": "Open Sans", "fontSize": 25, "opacity": 0.85},
"encoding": {"x": {"datum": 11.1}, "y": {"datum": 1.132149}, "text": {"value": "instaforex"}}
},
{
"data": {"values": [{}]},
"mark": {"type": "text", "align": "left", "baseline": "middle", "color": "#c8c8c8", "font": "Liberation Sans", "fontSize": 10, "opacity": 0.85},
"encoding": {"x": {"datum": 11.1}, "y": {"datum": 1.131703}, "text": {"value": "Instant Forex Trading"}}
}
]
}
